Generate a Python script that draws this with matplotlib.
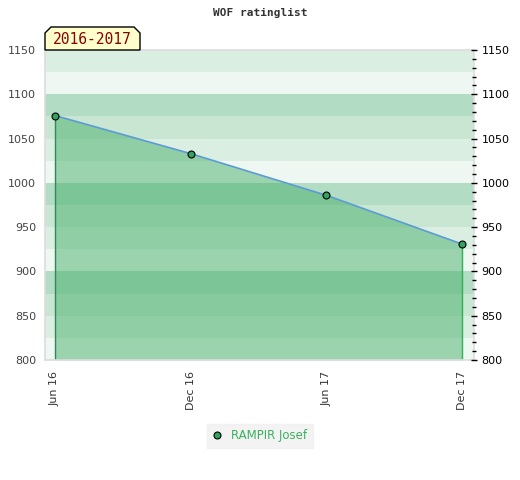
"""WOF ratinglist chart for one player, season 2016-2017."""

import matplotlib
matplotlib.use("Agg")
import matplotlib.pyplot as plt
from matplotlib.patches import Polygon
from matplotlib.ticker import MultipleLocator

# Data
months = ["Jun 16", "Dec 16", "Jun 17", "Dec 17"]
ratings = [1076, 1033, 986, 931]
player = "RAMPIR Josef"
season = "2016-2017"
title = "WOF ratinglist"

Y_MIN, Y_MAX = 800, 1150
BAND_COLORS = ["#eef7f1", "#dbeee2", "#c8e6d2", "#b2dcc3"]  # bottom -> top of each 100
FILL_COLOR = "#3fac65"
LINE_COLOR = "#5b9bd5"
MARKER_COLOR = "#33a25e"

fig = plt.figure(figsize=(5.2, 4.8), dpi=100)
fig.patch.set_facecolor("white")
ax = fig.add_axes([45 / 520, 1 - 360 / 480, 429 / 520, 310 / 480])

xs = list(range(len(months)))

# background bands every 25 points
for i, lo in enumerate(range(Y_MIN, Y_MAX, 25)):
    ax.axhspan(lo, lo + 25, color=BAND_COLORS[i % 4], lw=0, zorder=0)

ax.fill_between(xs, ratings, Y_MIN, color=FILL_COLOR, alpha=0.48, lw=0, zorder=1)
ax.vlines(xs[0], Y_MIN, ratings[0], color="#2e8b57", lw=1, zorder=2)
ax.vlines(xs[-1], Y_MIN, ratings[-1], color="#2db34f", lw=1, zorder=2)
ax.plot(xs, ratings, color=LINE_COLOR, lw=1.2, zorder=3)
ax.plot(xs, ratings, ls="none", marker="o", ms=5, mfc=MARKER_COLOR,
        mec="black", mew=0.8, zorder=4, label=player)

ax.set_xlim(-0.074, 3.09)
ax.set_ylim(Y_MIN, Y_MAX)
ax.set_xticks(xs)
ax.set_xticklabels(months, rotation=90, fontsize=8, color="#333333")
ax.yaxis.set_major_locator(MultipleLocator(50))
ax.tick_params(axis="y", length=0, labelsize=8, labelcolor="#444444", pad=6.5)
ax.tick_params(axis="x", length=0, pad=8)
for sp in ax.spines.values():
    sp.set_color("#dddddd")
    sp.set_linewidth(1.2)

ax2 = ax.twinx()
ax2.set_ylim(Y_MIN, Y_MAX)
ax2.yaxis.set_major_locator(MultipleLocator(50))
ax2.yaxis.set_minor_locator(MultipleLocator(10))
ax2.tick_params(axis="y", which="major", direction="inout", length=5,
                width=1, labelsize=8, labelcolor="black", pad=3)
ax2.tick_params(axis="y", which="minor", direction="inout", length=3, width=1)
for sp in ax2.spines.values():
    sp.set_visible(False)

fig.text(260 / 520, 1 - 13 / 480, title, ha="center", va="center",
         fontsize=8, family="DejaVu Sans Mono", fontweight="bold", color="#333333")

# season tag box with clipped top corners (pixel coords)
px = [(45, 50), (45, 33), (51, 27), (134, 27), (140, 33), (140, 50)]
poly = Polygon([(x / 520, 1 - y / 480) for x, y in px], closed=True,
               transform=fig.transFigure, facecolor="#ffffcc",
               edgecolor="black", lw=1, zorder=5)
fig.patches.append(poly)
fig.text(92 / 520, 1 - 40 / 480, season, ha="center", va="center",
         fontsize=10.5, family="DejaVu Sans Mono", color="#8b0000", zorder=6)

leg = fig.legend(loc="center", bbox_to_anchor=(260 / 520, 1 - 436 / 480),
                 fontsize=8.5, frameon=True, fancybox=False, handlelength=0.8,
                 handletextpad=0.8, borderpad=0.5)
leg.get_frame().set_facecolor("#f0f0f0")
leg.get_frame().set_edgecolor("#f0f0f0")
for t in leg.get_texts():
    t.set_color("#3cb060")

fig.savefig("out.png", dpi=100)
